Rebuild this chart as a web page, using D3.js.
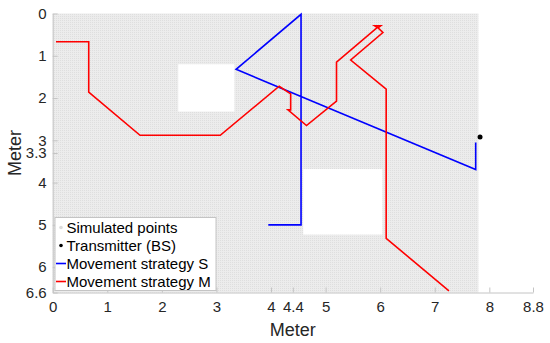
<!DOCTYPE html>
<html>
<head>
<meta charset="utf-8">
<script src="https://cdn.jsdelivr.net/npm/d3@7"></script>
<style>
  html, body { margin: 0; padding: 0; background: #fff; }
  svg { display: block; font-family: "Liberation Sans", Arial, sans-serif; }
</style>
</head>
<body>
<div id="chart"></div>
<script>
// ticks used by the original figure
const xTicks = [0, 1, 2, 3, 4, 4.4, 5, 6, 7, 8, 8.8];
const yTicks = [0, 1, 2, 3, 3.3, 4, 5, 6, 6.6];

// area covered by simulated points, and the obstacles with no points
const simArea = { x0: 0, x1: 7.8, y0: 0, y1: 6.6 };
const obstacles = [
  { x0: 2.3, x1: 3.33, y0: 1.2, y1: 2.32 },
  { x0: 4.59, x1: 6.04, y0: 3.68, y1: 5.23 }
];

const transmitter = [{ x: 7.83, y: 2.92 }];

const pathS = [
  [3.95, 5.0], [4.55, 5.0], [4.55, 0.02], [3.36, 1.32],
  [7.75, 3.69], [7.75, 3.05]
];

const pathM = [
  [0.06, 0.67], [0.66, 0.67], [0.66, 1.86], [1.6, 2.88], [3.07, 2.88],
  [4.15, 1.72], [4.36, 1.9], [4.36, 2.28], [4.31, 2.28], [4.65, 2.65],
  [5.2, 2.07], [5.2, 1.15], [5.95, 0.33], [5.9, 0.29], [6.01, 0.29],
  [5.96, 0.34], [6.05, 0.45], [5.46, 1.1], [6.11, 1.79], [6.11, 5.32],
  [7.26, 6.56]
];

const legendItems = [
  { label: "Simulated points", kind: "dot", color: "#dcdcdc" },
  { label: "Transmitter (BS)", kind: "dot", color: "#000" },
  { label: "Movement strategy S", kind: "line", color: "#0000ff" },
  { label: "Movement strategy M", kind: "line", color: "#ff0000" }
];

const width = 550, height = 343;
const margin = { left: 52.7, right: 17, top: 13.5, bottom: 50.5 };

const svg = d3.select("#chart").append("svg")
  .attr("width", width)
  .attr("height", height);

const x = d3.scaleLinear().domain([0, 8.8]).range([margin.left, width - margin.right]);
const y = d3.scaleLinear().domain([0, 6.6]).range([margin.top, height - margin.bottom]);

// dotted texture for the simulated points
const defs = svg.append("defs");
const pat = defs.append("pattern")
  .attr("id", "simdots")
  .attr("width", 2).attr("height", 2)
  .attr("patternUnits", "userSpaceOnUse");
pat.append("rect").attr("width", 2).attr("height", 2).attr("fill", "#ececec");
pat.append("rect").attr("width", 1).attr("height", 1).attr("fill", "#dedede");

svg.append("rect")
  .attr("x", x(simArea.x0))
  .attr("y", y(simArea.y0))
  .attr("width", x(simArea.x1) - x(simArea.x0))
  .attr("height", y(simArea.y1) - y(simArea.y0))
  .attr("fill", "url(#simdots)");

svg.append("g")
  .selectAll("rect")
  .data(obstacles)
  .join("rect")
  .attr("x", (d) => x(d.x0))
  .attr("y", (d) => y(d.y0))
  .attr("width", (d) => x(d.x1) - x(d.x0))
  .attr("height", (d) => y(d.y1) - y(d.y0))
  .attr("fill", "#fff");

// axes (MATLAB style, ticks pointing inside)
const xAxis = d3.axisBottom(x).tickValues(xTicks).tickFormat(d3.format("~g")).tickSizeInner(-5).tickSizeOuter(0).tickPadding(9);
const yAxis = d3.axisLeft(y).tickValues(yTicks).tickFormat(d3.format("~g")).tickSizeInner(-5).tickSizeOuter(0).tickPadding(6);

const gx = svg.append("g")
  .attr("transform", `translate(0,${y(6.6)})`)
  .call(xAxis);
const gy = svg.append("g")
  .attr("transform", `translate(${x(0)},0)`)
  .call(yAxis);

[gx, gy].forEach((g) => {
  g.select(".domain").attr("stroke", "#c4c4c4").attr("stroke-width", 1);
  g.selectAll(".tick line").attr("stroke", "#c4c4c4");
  g.selectAll(".tick text")
    .attr("font-size", 15)
    .attr("fill", "#262626")
    .attr("font-family", "Liberation Sans, Arial, sans-serif");
});

svg.append("text")
  .attr("x", x(4.4))
  .attr("y", 336)
  .attr("text-anchor", "middle")
  .attr("font-size", 18)
  .attr("fill", "#262626")
  .text("Meter");

svg.append("text")
  .attr("transform", `translate(21,${y(3.3)}) rotate(-90)`)
  .attr("text-anchor", "middle")
  .attr("font-size", 18)
  .attr("fill", "#262626")
  .text("Meter");

// movement paths
const line = d3.line().x((d) => x(d[0])).y((d) => y(d[1]));

svg.append("path")
  .datum(pathS)
  .attr("d", line)
  .attr("fill", "none")
  .attr("stroke", "#0000ff")
  .attr("stroke-width", 1.6);

svg.append("path")
  .datum(pathM)
  .attr("d", line)
  .attr("fill", "none")
  .attr("stroke", "#ff0000")
  .attr("stroke-width", 1.6)
  .attr("stroke-linejoin", "miter");

svg.append("g")
  .selectAll("circle")
  .data(transmitter)
  .join("circle")
  .attr("cx", (d) => x(d.x))
  .attr("cy", (d) => y(d.y))
  .attr("r", 2.5)
  .attr("fill", "#000");

// legend
const legend = svg.append("g").attr("transform", "translate(55,217.5)");
legend.append("rect")
  .attr("width", 161)
  .attr("height", 73)
  .attr("fill", "#fff")
  .attr("stroke", "#c4c4c4")
  .attr("stroke-width", 1);

const rows = legend.selectAll("g.row")
  .data(legendItems)
  .join("g")
  .attr("class", "row")
  .attr("transform", (d, i) => `translate(0,${10 + i * 18})`);

rows.filter((d) => d.kind === "dot")
  .append("circle")
  .attr("cx", 6)
  .attr("cy", 0)
  .attr("r", 1.8)
  .attr("fill", (d) => d.color);

rows.filter((d) => d.kind === "line")
  .append("line")
  .attr("x1", 1).attr("x2", 11)
  .attr("y1", 0).attr("y2", 0)
  .attr("stroke", (d) => d.color)
  .attr("stroke-width", 1.6);

rows.append("text")
  .attr("x", 11.5)
  .attr("y", 0)
  .attr("dy", "0.36em")
  .attr("font-size", 15)
  .attr("fill", "#000")
  .text((d) => d.label);
</script>
</body>
</html>
